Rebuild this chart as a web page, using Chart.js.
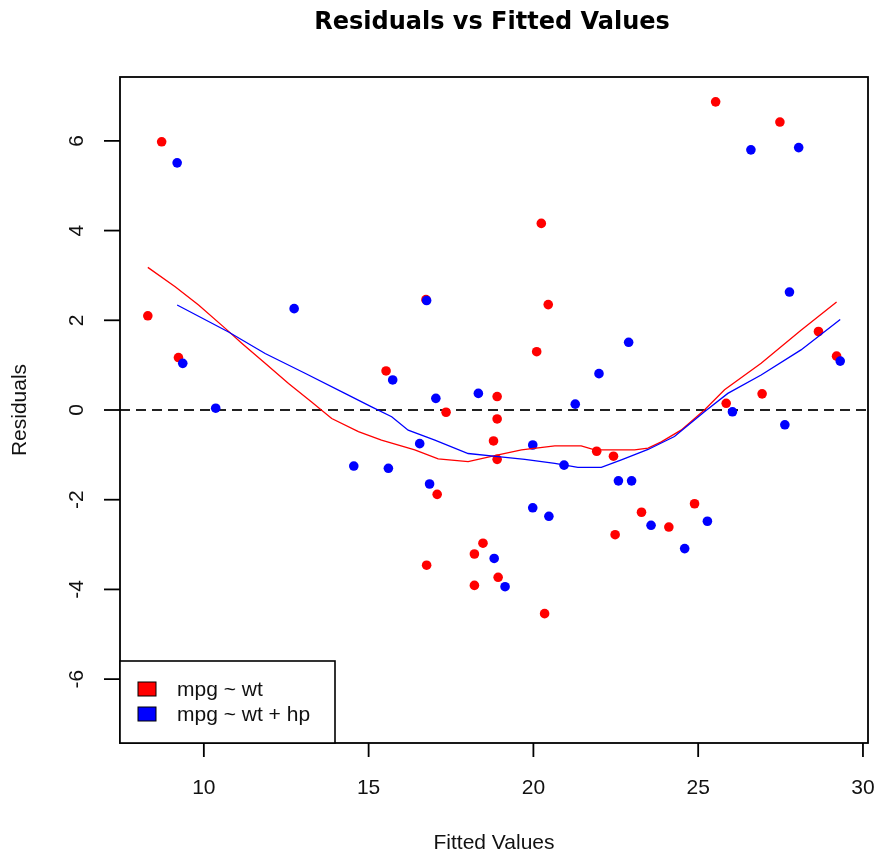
<!DOCTYPE html>
<html>
<head>
<meta charset="utf-8">
<script src="https://cdn.jsdelivr.net/npm/chart.js@4"></script>
<style>
  html, body { margin: 0; padding: 0; background: #fff; }
  #wrap { width: 878px; height: 851px; }
</style>
</head>
<body>
<div id="wrap"><canvas id="c" width="878" height="851"></canvas></div>
<script>
// ---- Data ----
const fittedWt = [23.28, 21.92, 24.89, 20.10, 18.90, 18.79, 18.21, 20.24, 20.45, 18.90, 18.90, 15.53, 17.35, 17.08, 9.23, 8.30, 8.72, 25.53, 28.65, 27.48, 24.11, 18.47, 18.93, 16.76, 16.74, 26.94, 25.85, 29.20, 20.34, 22.48, 18.21, 22.43];
const residWt  = [-2.28, -0.92, -2.09, 1.30, -0.20, -0.69, -3.91, 4.16, 2.35, 0.30, -1.10, 0.87, -0.05, -1.88, 1.17, 2.10, 5.98, 6.87, 1.75, 6.42, -2.61, -2.97, -3.73, -3.46, 2.46, 0.36, 0.15, 1.20, -4.54, -2.78, -3.21, -1.03];
const fittedWtHp = [23.57, 22.58, 25.28, 21.27, 18.33, 20.47, 15.60, 22.89, 21.99, 19.98, 19.98, 15.73, 17.04, 16.85, 10.36, 9.36, 9.19, 26.60, 29.31, 28.05, 24.59, 18.81, 19.14, 14.55, 16.76, 27.63, 26.04, 27.77, 16.55, 20.93, 12.74, 22.98];
const residWtHp  = [-2.57, -1.58, -2.48, 0.13, 0.37, -2.37, -1.30, 1.51, 0.81, -0.78, -2.18, 0.67, 0.26, -1.65, 0.04, 1.04, 5.51, 5.80, 1.09, 5.85, -3.09, -3.31, -3.94, -1.25, 2.44, -0.33, -0.04, 2.63, -0.75, -1.23, 2.26, -1.58];

// smoothed (lowess) curves
const smoothWtX = [8.30, 9.13, 9.84, 10.65, 11.15, 11.86, 12.57, 13.27, 13.88, 14.69, 15.39, 16.40, 17.11, 18.02, 18.93, 19.64, 20.65, 21.45, 21.86, 23.07, 23.48, 23.88, 24.48, 25.19, 25.80, 26.91, 28.12, 29.20];
const smoothWtY = [3.18, 2.75, 2.34, 1.82, 1.49, 1.04, 0.59, 0.18, -0.19, -0.48, -0.67, -0.89, -1.09, -1.15, -1.00, -0.89, -0.80, -0.80, -0.89, -0.89, -0.85, -0.71, -0.45, 0.00, 0.45, 1.04, 1.78, 2.41];
const smoothWtHpX = [9.19, 10.75, 11.86, 13.07, 14.28, 15.09, 15.70, 16.20, 17.01, 18.02, 18.93, 19.74, 20.65, 21.35, 22.06, 22.67, 23.48, 24.28, 25.19, 25.90, 26.91, 28.12, 29.31];
const smoothWtHpY = [2.34, 1.74, 1.26, 0.82, 0.37, 0.07, -0.15, -0.45, -0.67, -0.97, -1.04, -1.10, -1.19, -1.28, -1.28, -1.11, -0.88, -0.59, -0.04, 0.37, 0.78, 1.34, 2.02];

const xTicks = [10, 15, 20, 25, 30];
const yTicks = [-6, -4, -2, 0, 2, 4, 6];
const seriesNames = ['mpg ~ wt', 'mpg ~ wt + hp'];
const seriesColors = ['#ff0000', '#0000ff'];
const titleText = 'Residuals vs Fitted Values';
const xTitle = 'Fitted Values';
const yTitle = 'Residuals';

// axis ranges (R style 4% extension)
const xMin = 7.456, xMax = 30.153;
const yMin = -7.424, yMax = 7.424;

const pts = (xs, ys) => xs.map((x, i) => ({ x: x, y: ys[i] }));

const FONT = '"Liberation Sans", Arial, sans-serif';
const TITLE_FONT = '"DejaVu Sans", Verdana, sans-serif';

const rAxes = {
  id: 'rAxes',
  beforeDatasetsDraw(chart) {
    const ctx = chart.ctx, a = chart.chartArea, ys = chart.scales.y;
    const py = ys.getPixelForValue(0);
    ctx.save();
    ctx.beginPath();
    ctx.rect(a.left, a.top, a.right - a.left, a.bottom - a.top);
    ctx.clip();
    ctx.strokeStyle = '#222';
    ctx.lineWidth = 2;
    ctx.setLineDash([10, 6]);
    ctx.beginPath();
    ctx.moveTo(a.left, py);
    ctx.lineTo(a.right, py);
    ctx.stroke();
    ctx.restore();
  },
  afterDraw(chart) {
    const ctx = chart.ctx, a = chart.chartArea;
    const xs = chart.scales.x, ys = chart.scales.y;
    ctx.save();
    ctx.strokeStyle = '#000';
    ctx.fillStyle = '#111';
    ctx.lineWidth = 1.8;
    ctx.strokeRect(a.left, a.top, a.right - a.left, a.bottom - a.top);

    // x ticks
    ctx.font = '21px ' + FONT;
    ctx.textAlign = 'center';
    ctx.textBaseline = 'middle';
    ctx.lineWidth = 1.8;
    xTicks.forEach(v => {
      const px = xs.getPixelForValue(v);
      ctx.beginPath();
      ctx.moveTo(px, a.bottom);
      ctx.lineTo(px, a.bottom + 14);
      ctx.stroke();
      ctx.fillText(String(v), px, a.bottom + 45);
    });
    // y ticks
    yTicks.forEach(v => {
      const py = ys.getPixelForValue(v);
      ctx.beginPath();
      ctx.moveTo(a.left, py);
      ctx.lineTo(a.left - 16, py);
      ctx.stroke();
      ctx.save();
      ctx.translate(a.left - 43, py);
      ctx.rotate(-Math.PI / 2);
      ctx.fillText(String(v), 0, 0);
      ctx.restore();
    });
    // axis titles
    const cx = (a.left + a.right) / 2, cy = (a.top + a.bottom) / 2;
    ctx.fillText(xTitle, cx, a.bottom + 100);
    ctx.save();
    ctx.translate(20, cy);
    ctx.rotate(-Math.PI / 2);
    ctx.fillText(yTitle, 0, 0);
    ctx.restore();
    // main title
    ctx.font = 'bold 24px ' + TITLE_FONT;
    ctx.fillStyle = '#000';
    ctx.fillText(titleText, cx - 2, 23);

    // legend (bottom-left inside plot)
    const lx = a.left, lw = 215, lh = 82, lyTop = a.bottom - lh;
    ctx.fillStyle = '#fff';
    ctx.fillRect(lx, lyTop, lw, lh);
    ctx.lineWidth = 1.6;
    ctx.strokeStyle = '#000';
    ctx.strokeRect(lx, lyTop, lw, lh);
    ctx.font = '21px ' + FONT;
    ctx.textAlign = 'left';
    seriesNames.forEach((name, i) => {
      const rowY = lyTop + 28 + i * 25;
      ctx.fillStyle = seriesColors[i];
      ctx.fillRect(lx + 18, rowY - 7, 18, 14);
      ctx.lineWidth = 1;
      ctx.strokeRect(lx + 18, rowY - 7, 18, 14);
      ctx.fillStyle = '#111';
      ctx.fillText(name, lx + 57, rowY + 1);
    });
    ctx.restore();
  }
};

new Chart(document.getElementById('c'), {
  type: 'scatter',
  data: {
    datasets: [
      { label: 'lowess ' + seriesNames[1], type: 'line', data: pts(smoothWtHpX, smoothWtHpY),
        borderColor: seriesColors[1], borderWidth: 1.3, pointRadius: 0, fill: false, tension: 0 },
      { label: 'lowess ' + seriesNames[0], type: 'line', data: pts(smoothWtX, smoothWtY),
        borderColor: seriesColors[0], borderWidth: 1.3, pointRadius: 0, fill: false, tension: 0 },
      { label: seriesNames[1], data: pts(fittedWtHp, residWtHp),
        backgroundColor: seriesColors[1], borderColor: seriesColors[1], pointRadius: 4.8, borderWidth: 0 },
      { label: seriesNames[0], data: pts(fittedWt, residWt),
        backgroundColor: seriesColors[0], borderColor: seriesColors[0], pointRadius: 4.8, borderWidth: 0 }
    ]
  },
  options: {
    responsive: false,
    animation: false,
    devicePixelRatio: 1,
    layout: { padding: { left: 120, right: 10, top: 77, bottom: 108 } },
    scales: {
      x: { type: 'linear', min: xMin, max: xMax, display: false },
      y: { type: 'linear', min: yMin, max: yMax, display: false }
    },
    plugins: {
      legend: { display: false },
      title: { display: false },
      tooltip: { enabled: false }
    }
  },
  plugins: [rAxes]
});
</script>
</body>
</html>
